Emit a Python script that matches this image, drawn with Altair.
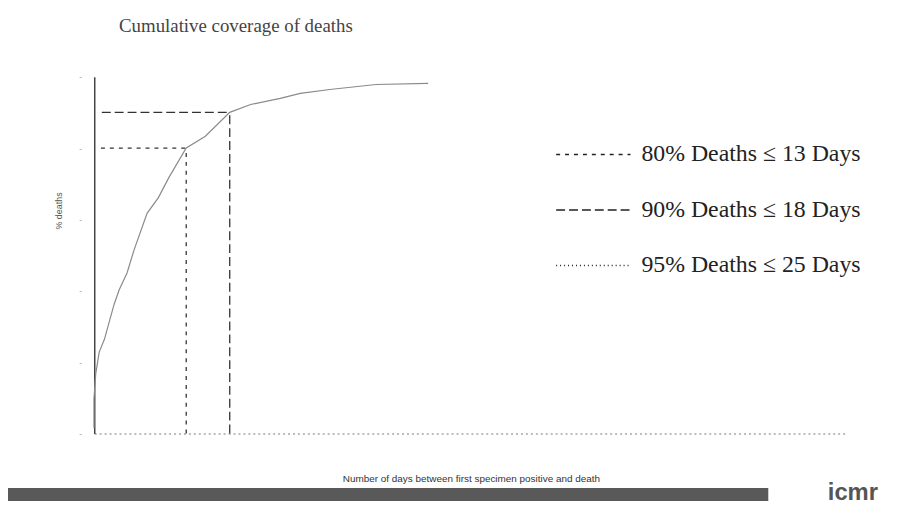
import altair as alt
import pandas as pd

# ---- data ----
curve_days = [2.4, 2.4, 2.6, 3.0, 3.6, 4.7, 5.3, 6.2, 7.0, 8.5, 9.8, 11.0, 13.0, 15.2, 18.0, 20.4, 23.8, 26.1, 29.5, 34.8, 40.8]
curve_pct = [1.5, 9.7, 16.7, 22.8, 26.4, 36.1, 40.3, 45.0, 51.4, 61.7, 66.1, 71.7, 80.0, 83.3, 90.0, 92.2, 93.9, 95.3, 96.4, 97.8, 98.1]

series_labels = ["80% Deaths ≤ 13 Days", "90% Deaths ≤ 18 Days", "95% Deaths ≤ 25 Days"]
drawn_series = ["80% Deaths ≤ 13 Days", "90% Deaths ≤ 18 Days"]
drawn_days = [13, 18]
drawn_pct = [80, 90]
line_start_day = [3.2, 3.3]

curve_df = pd.DataFrame({"day": curve_days, "pct": curve_pct, "i": list(range(len(curve_days)))})
ref_df = pd.DataFrame({
    "series": drawn_series,
    "day": drawn_days,
    "pct": drawn_pct,
    "start": line_start_day,
    "base": [0, 0],
})

xscale = alt.Scale(domain=[2.43, 89], nice=False, zero=False)
yscale = alt.Scale(domain=[0, 100], nice=False)
dash_scale = alt.Scale(domain=series_labels, range=[[4, 5], [9, 4], [1, 3]])

curve = alt.Chart(curve_df).mark_line(color="#8a8a8a", strokeWidth=1.2).encode(
    x=alt.X("day:Q", scale=xscale,
            axis=alt.Axis(title="Number of days between first specimen positive and death",
                          labels=False, ticks=False, grid=False, domainDash=[2, 3],
                          domainColor="#777", titleFont="Liberation Sans", titleFontSize=10,
                          titleFontWeight="normal", titleColor="#333", titlePadding=40)),
    y=alt.Y("pct:Q", scale=yscale,
            axis=alt.Axis(title="% deaths", values=list(range(0, 101, 10)), labelExpr="'-'",
                          labelFontSize=8, labelColor="#888", ticks=False, labelPadding=13,
                          grid=False, domainColor="#444", domainWidth=1.5,
                          titleFont="Liberation Sans", titleFontSize=9, titleFontWeight="normal",
                          titleColor="#555", titleX=-31, titleY=135)),
    order="i:Q",
)

hrules = alt.Chart(ref_df).mark_rule(color="#333", strokeWidth=1.3).encode(
    x="start:Q",
    x2="day:Q",
    y="pct:Q",
    strokeDash=alt.StrokeDash(
        "series:N", scale=dash_scale,
        legend=alt.Legend(title=None, orient="none", legendX=465, legendY=40,
                          symbolType="stroke", symbolSize=5625, symbolStrokeColor="#222",
                          symbolStrokeWidth=1.5, labelFont="Liberation Serif", labelFontSize=24,
                          labelColor="#222", labelOffset=10, labelLimit=400, rowPadding=5)),
)

vrules = alt.Chart(ref_df).mark_rule(color="#333", strokeWidth=1.3).encode(
    x="day:Q",
    y="base:Q",
    y2="pct:Q",
    strokeDash=alt.StrokeDash("series:N", scale=dash_scale, legend=None),
)

footer = alt.Chart(pd.DataFrame({"k": [0]})).mark_rect(color="#3c3c3c", opacity=0.85).encode(
    x=alt.value(-87), x2=alt.value(680), y=alt.value(415), y2=alt.value(428)
)
logo = alt.Chart(pd.DataFrame({"t": ["icmr"]})).mark_text(
    font="Liberation Sans", fontSize=24, fontWeight="bold", color="#555", align="left"
).encode(x=alt.value(740), y=alt.value(420), text="t:N")

chart = alt.layer(curve, hrules, vrules, footer, logo).properties(
    width=760,
    height=360,
    autosize=alt.AutoSizeParams(type="none"),
    padding={"left": 87, "top": 67, "right": 68, "bottom": 86},
    title=alt.TitleParams("Cumulative coverage of deaths", anchor="start", dx=112, offset=22,
                          baseline="alphabetic", font="Liberation Serif", fontSize=19,
                          fontWeight="normal", color="#444"),
).configure_view(stroke=None)

chart.save("out.html", embed_options={"renderer": "svg", "actions": False})
